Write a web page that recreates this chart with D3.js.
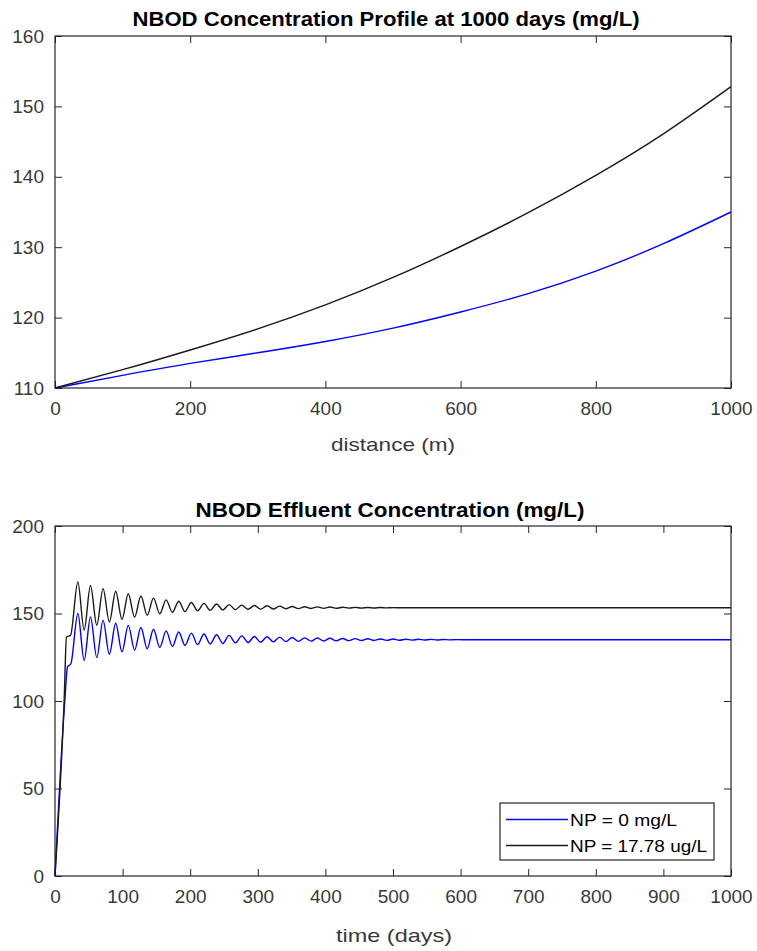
<!DOCTYPE html>
<html>
<head>
<meta charset="utf-8">
<script src="https://cdn.jsdelivr.net/npm/d3@7"></script>
<style>
  body { margin: 0; background: #fff; }
  svg { display: block; font-family: "Liberation Sans", Arial, sans-serif; }
  .tick text { fill: #3a3a3a; font-size: 19px; }
  .axis path, .axis line { stroke: #262626; }
</style>
</head>
<body>
<div id="chart"></div>
<script>
// profile along distance at 1000 days (mg/L)
var distance = [0, 100, 200, 300, 400, 500, 600, 700, 800, 900, 1000];
var profileNoNP = [110, 111.8, 113.5, 115.0, 116.6, 118.5, 120.8, 123.4, 126.6, 130.5, 135.0];
var profileNP = [110, 112.6, 115.4, 118.4, 121.8, 125.7, 130.1, 134.9, 140.2, 146.1, 152.8];

// effluent concentration over time: start-up points, then the peaks and troughs
var effluentNoNP = [
  [0, 0], [14.5, 100], [18.5, 119.5], [23.5, 121.3],
  [33.8, 150.0], [43.1, 123.3], [52.5, 148.0], [61.8, 124.8], [71.1, 146.1], [80.4, 126.7],
  [89.8, 144.4], [99.1, 128.1], [108.4, 143.2], [117.7, 129.1], [127.1, 142.0], [136.4, 129.9],
  [145.7, 141.0], [155.0, 130.6], [164.4, 140.1], [173.7, 131.2], [183.0, 139.4], [192.3, 131.8],
  [201.7, 138.8], [211.0, 132.2], [220.3, 138.3], [229.6, 132.6], [239.0, 137.9], [248.3, 132.9],
  [257.6, 137.5], [266.9, 133.2], [276.3, 137.2], [285.6, 133.4], [294.9, 136.9], [304.2, 133.6],
  [313.6, 136.7], [322.9, 133.8], [332.2, 136.5], [341.5, 133.95], [350.9, 136.3], [360.2, 134.1],
  [369.5, 136.1], [378.8, 134.2], [388.2, 136.0], [397.5, 134.3], [406.8, 135.85], [416.1, 134.4],
  [425.5, 135.75], [434.8, 134.5], [444.1, 135.65], [453.4, 134.55], [462.8, 135.55], [472.1, 134.6],
  [481.4, 135.45], [490.7, 134.65], [500.1, 135.4], [509.4, 134.75], [518.7, 135.3], [528.0, 134.8],
  [537.4, 135.25], [546.7, 134.85], [556.0, 135.2], [565.3, 134.9], [574.7, 135.15], [584.0, 134.95],
  [593.3, 135.1], [602.6, 135.0], [700, 135.0], [850, 135.0], [1000, 135.0]
];
var effluentNP = [
  [0, 0], [13.5, 100], [17, 136.5], [23, 137.6],
  [33.8, 168.0], [43.1, 140.5], [52.5, 166.0], [61.8, 143.3], [71.1, 164.2], [80.4, 145.2],
  [89.8, 162.7], [99.1, 146.6], [108.4, 161.3], [117.7, 147.9], [127.1, 160.0], [136.4, 149.0],
  [145.7, 158.8], [155.0, 149.9], [164.4, 157.8], [173.7, 150.6], [183.0, 157.0], [192.3, 151.1],
  [201.7, 156.3], [211.0, 151.5], [220.3, 155.8], [229.6, 151.8], [239.0, 155.4], [248.3, 152.0],
  [257.6, 155.1], [266.9, 152.2], [276.3, 154.8], [285.6, 152.4], [294.9, 154.6], [304.2, 152.5],
  [313.6, 154.4], [322.9, 152.6], [332.2, 154.2], [341.5, 152.7], [350.9, 154.0], [360.2, 152.8],
  [369.5, 153.9], [378.8, 152.9], [388.2, 153.8], [397.5, 152.95], [406.8, 153.7], [416.1, 153.0],
  [425.5, 153.6], [434.8, 153.05], [444.1, 153.5], [453.4, 153.1], [462.8, 153.45], [472.1, 153.15],
  [481.4, 153.4], [490.7, 153.2], [500.1, 153.35], [509.4, 153.25], [530, 153.3], [700, 153.3],
  [850, 153.3], [1000, 153.3]
];

var distTicks = [0, 200, 400, 600, 800, 1000];
var profTicks = [110, 120, 130, 140, 150, 160];
var timeTicks = [0, 100, 200, 300, 400, 500, 600, 700, 800, 900, 1000];
var effTicks = [0, 50, 100, 150, 200];
var legendLabels = ["NP = 0 mg/L", "NP = 17.78 ug/L"];
var colors = ["#0000ff", "#1a1a1a"];

var width = 757,
    height = 951,
    tickLen = 7;

var svg = d3.select("#chart").append("svg")
    .attr("width", width)
    .attr("height", height);

// draws one boxed MATLAB-style panel and returns its scales
function drawPanel(box, xDomain, yDomain, xTicks, yTicks) {
  var x = d3.scaleLinear().domain(xDomain).range([box.left, box.right]);
  var y = d3.scaleLinear().domain(yDomain).range([box.bottom, box.top]);
  var fmt = d3.format("d");

  svg.append("g")
      .attr("class", "axis")
      .attr("transform", "translate(0," + box.bottom + ")")
      .call(d3.axisBottom(x).tickValues(xTicks).tickFormat(fmt)
            .tickSize(-tickLen).tickSizeOuter(0).tickPadding(14));
  svg.append("g")
      .attr("class", "axis")
      .attr("transform", "translate(0," + box.top + ")")
      .call(d3.axisTop(x).tickValues(xTicks).tickSize(-tickLen).tickSizeOuter(0).tickFormat(""));
  svg.append("g")
      .attr("class", "axis")
      .attr("transform", "translate(" + box.left + ",0)")
      .call(d3.axisLeft(y).tickValues(yTicks).tickFormat(fmt)
            .tickSize(-tickLen).tickSizeOuter(0).tickPadding(11));
  svg.append("g")
      .attr("class", "axis")
      .attr("transform", "translate(" + box.right + ",0)")
      .call(d3.axisRight(y).tickValues(yTicks).tickSize(-tickLen).tickSizeOuter(0).tickFormat(""));

  svg.selectAll(".axis .domain").remove();

  svg.append("rect")
      .attr("x", box.left)
      .attr("y", box.top)
      .attr("width", box.right - box.left)
      .attr("height", box.bottom - box.top)
      .attr("fill", "none")
      .attr("stroke", "#262626")
      .attr("stroke-width", 1.2);

  return {x: x, y: y};
}

function addText(str, cx, baseline, size, weight, len) {
  svg.append("text")
      .attr("x", cx)
      .attr("y", baseline)
      .attr("text-anchor", "middle")
      .attr("font-size", size)
      .attr("font-weight", weight)
      .attr("fill", weight == "bold" ? "#000" : "#3a3a3a")
      .attr("textLength", len)
      .attr("lengthAdjust", "spacingAndGlyphs")
      .text(str);
}

// top panel: profile
var top1 = drawPanel({left: 55, right: 731, top: 36, bottom: 388},
                     [0, 1000], [110, 160], distTicks, profTicks);

var profLine = d3.line()
    .x(function(d, i) { return top1.x(distance[i]); })
    .y(function(d) { return top1.y(d); })
    .curve(d3.curveNatural);

[profileNoNP, profileNP].forEach(function(s, i) {
  svg.append("path")
      .datum(s)
      .attr("d", profLine)
      .attr("fill", "none")
      .attr("stroke", colors[i])
      .attr("stroke-width", 1.4);
});

addText("NBOD Concentration Profile at 1000 days (mg/L)", 386, 26, 19.5, "bold", 507);
addText("distance (m)", 393, 451, 19, "normal", 124);

// bottom panel: effluent
var bot = drawPanel({left: 55, right: 731, top: 526, bottom: 876},
                    [0, 1000], [0, 200], timeTicks, effTicks);

var effLine = d3.line()
    .x(function(d) { return bot.x(d[0]); })
    .y(function(d) { return bot.y(d[1]); })
    .curve(d3.curveMonotoneX);

[effluentNoNP, effluentNP].forEach(function(s, i) {
  svg.append("path")
      .datum(s)
      .attr("d", effLine)
      .attr("fill", "none")
      .attr("stroke", colors[i])
      .attr("stroke-width", 1.4);
});

addText("NBOD Effluent Concentration (mg/L)", 390, 517, 19.5, "bold", 389);
addText("time (days)", 394, 942, 19, "normal", 116);

// legend
var lg = svg.append("g").attr("transform", "translate(500,803)");
lg.append("rect")
    .attr("width", 214)
    .attr("height", 57)
    .attr("fill", "#fff")
    .attr("stroke", "#262626")
    .attr("stroke-width", 1.2);

legendLabels.forEach(function(label, i) {
  var yy = 16.5 + i * 26;
  lg.append("line")
      .attr("x1", 6).attr("x2", 68)
      .attr("y1", yy).attr("y2", yy)
      .attr("stroke", colors[i])
      .attr("stroke-width", 1.4);
  lg.append("text")
      .attr("x", 70)
      .attr("y", yy + 6)
      .attr("font-size", 16)
      .attr("fill", "#000")
      .attr("textLength", i == 0 ? 107 : 137)
      .attr("lengthAdjust", "spacingAndGlyphs")
      .text(label);
});
</script>
</body>
</html>
